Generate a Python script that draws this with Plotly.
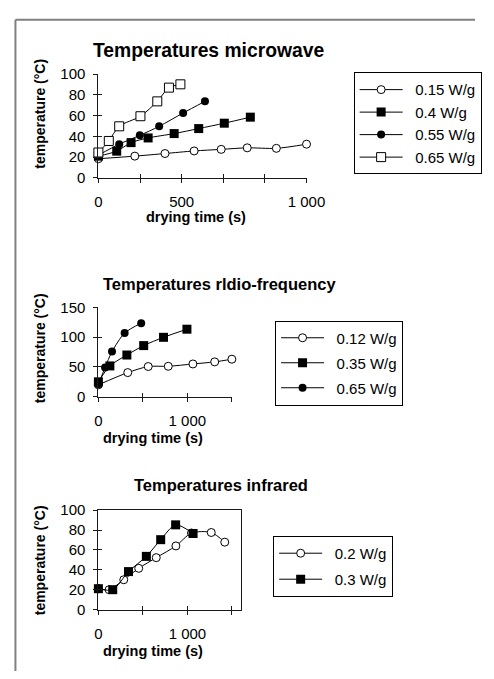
import plotly.graph_objects as go

W, H = 494, 679

# ---------------- data ----------------
mw_names = ["0.15 W/g", "0.4 W/g", "0.55 W/g", "0.65 W/g"]
mw_x_015 = [0, 175, 320, 460, 590, 715, 855, 1000]
mw_y_015 = [18.5, 21, 23.5, 26, 27.5, 29, 28.5, 32.5]
mw_x_040 = [0, 88, 157, 239, 364, 482, 605, 730]
mw_y_040 = [21, 25.8, 34, 38.5, 42.7, 47.5, 52.7, 58.5]
mw_x_055 = [0, 100, 199, 292, 407, 512]
mw_y_055 = [22, 32.5, 41, 49.7, 62.5, 73.7]
mw_x_065 = [0, 50, 100, 202, 283, 339, 394]
mw_y_065 = [24.5, 35.6, 49.7, 59.4, 73.7, 86.9, 90.1]

rf_names = ["0.12 W/g", "0.35 W/g", "0.65 W/g"]
rf_x_012 = [0, 330, 560, 785, 1062, 1307, 1500]
rf_y_012 = [20, 40.5, 50.7, 51.1, 55, 58.5, 63]
rf_x_035 = [0, 129, 320, 509, 732, 995]
rf_y_035 = [25, 51.7, 70, 85.8, 99.7, 113.3]
rf_x_065 = [0, 75, 153, 295, 481]
rf_y_065 = [20.8, 49, 75.7, 106.8, 123.5]

ir_names = ["0.2 W/g", "0.3 W/g"]
ir_x_02 = [0, 120, 285, 453, 650, 871, 1046, 1268, 1420]
ir_y_02 = [21, 20, 30, 41.5, 52.2, 64, 77, 77.5, 67.8]
ir_x_03 = [0, 161, 338, 539, 700, 868, 1064]
ir_y_03 = [21, 20, 38.2, 53.5, 70.3, 85.2, 76.5]

mw_xticks = [0, 200, 400, 600, 800, 1000]
mw_xticktext = ["0", "", "500", "", "", "1 000"]
mw_yticks = [0, 20, 40, 60, 80, 100]
rf_xticks = [0, 500, 1000, 1500]
rf_xticktext = ["0", "", "1 000", ""]
rf_yticks = [0, 50, 100, 150]
ir_xticks = [0, 500, 1000, 1500]
ir_xticktext = ["0", "", "1 000", ""]
ir_yticks = [0, 20, 40, 60, 80, 100]

titles = ["Temperatures microwave", "Temperatures rldio-frequency", "Temperatures infrared"]
x_title = "drying time (s)"
y_title = "temperature (°C)"

# ---------------- helpers ----------------
FONT = "Liberation Sans, Arial, sans-serif"
INK = "#1a1a1a"
GAP = "\u2002"  # spacing between legend symbol and label

def px(x):
    return x / W

def py(y):
    return 1 - y / H

fill_circle = dict(symbol="circle", size=8, color="black", line=dict(width=0))
fill_square = dict(symbol="square", size=9, color="black", line=dict(width=0))
open_square = dict(symbol="square", size=9, color="white", line=dict(width=1, color="black"))
open_circle_w = dict(symbol="circle", size=8, color="white", line=dict(width=1, color="black"))

fig = go.Figure()

def add(x, y, name, marker, xa, ya, legend, grp):
    fig.add_trace(go.Scatter(
        x=x, y=y, name=GAP + name, mode="lines+markers",
        line=dict(color="black", width=1, shape="spline", smoothing=0.8),
        marker=marker, xaxis=xa, yaxis=ya, legend=legend, legendgroup=grp,
        cliponaxis=False))

add(mw_x_015, mw_y_015, mw_names[0], open_circle_w, "x", "y", "legend", "a1")
add(mw_x_040, mw_y_040, mw_names[1], fill_square, "x", "y", "legend", "a2")
add(mw_x_055, mw_y_055, mw_names[2], fill_circle, "x", "y", "legend", "a3")
add(mw_x_065, mw_y_065, mw_names[3], open_square, "x", "y", "legend", "a4")

add(rf_x_012, rf_y_012, rf_names[0], open_circle_w, "x2", "y2", "legend2", "b1")
add(rf_x_035, rf_y_035, rf_names[1], fill_square, "x2", "y2", "legend2", "b2")
add(rf_x_065, rf_y_065, rf_names[2], fill_circle, "x2", "y2", "legend2", "b3")

add(ir_x_02, ir_y_02, ir_names[0], open_circle_w, "x3", "y3", "legend3", "c1")
add(ir_x_03, ir_y_03, ir_names[1], fill_square, "x3", "y3", "legend3", "c2")

# empty traces for the overlay axes that carry the inner half of crossing ticks
for xa, ya in [("x4", "y4"), ("x5", "y5"), ("x6", "y6")]:
    fig.add_trace(go.Scatter(x=[], y=[], xaxis=xa, yaxis=ya, showlegend=False, hoverinfo="skip"))

tickfont = dict(family=FONT, size=15, color="black")

def main_axis(domain, rng, tickvals, ticktext, anchor, mirror=False):
    return dict(domain=domain, range=rng, tickmode="array", tickvals=tickvals, ticktext=ticktext,
                showline=True, linecolor=INK, linewidth=1, mirror=mirror,
                ticks="outside", ticklen=4, tickwidth=1, tickcolor=INK,
                showgrid=False, zeroline=False, tickfont=tickfont, anchor=anchor,
                fixedrange=True)

def over_axis(base, rng, tickvals, anchor):
    return dict(overlaying=base, range=rng, tickmode="array", tickvals=tickvals,
                showline=False, ticks="inside", ticklen=4, tickwidth=1, tickcolor=INK,
                showticklabels=False, showgrid=False, zeroline=False, anchor=anchor,
                fixedrange=True)

mw_xd = [px(99), px(317.3)]
mw_yd = [py(173.3), py(66.7)]
rf_xd = [px(99), px(239)]
rf_yd = [py(397.7), py(306)]
ir_xd = [px(99), px(249)]
ir_yd = [py(616), py(514)]

mw_xr, mw_yr = [0, 1000], [0, 100]
rf_xr, rf_yr = [0, 1500], [0, 150]
ir_xr, ir_yr = [0, 1607], [0, 100]

layout = dict(
    width=W, height=H, margin=dict(l=0, r=0, t=0, b=0),
    paper_bgcolor="white", plot_bgcolor="rgba(0,0,0,0)",
    font=dict(family=FONT, color="black"),
    xaxis=dict(main_axis(mw_xd, mw_xr, mw_xticks, mw_xticktext, "y"), ticklabelstandoff=6),
    yaxis=dict(main_axis(mw_yd, mw_yr, mw_yticks, [str(v) for v in mw_yticks], "x"), ticklabelstandoff=5),
    xaxis2=dict(main_axis(rf_xd, rf_xr, rf_xticks, rf_xticktext, "y2"), ticklabelstandoff=6),
    yaxis2=dict(main_axis(rf_yd, rf_yr, rf_yticks, [str(v) for v in rf_yticks], "x2"), ticklabelstandoff=5),
    xaxis3=dict(main_axis(ir_xd, ir_xr, ir_xticks, ir_xticktext, "y3", mirror=True), ticklabelstandoff=6),
    yaxis3=dict(main_axis(ir_yd, ir_yr, ir_yticks, [str(v) for v in ir_yticks], "x3", mirror=True), ticklabelstandoff=5),
    xaxis4=over_axis("x", mw_xr, mw_xticks, "y4"),
    yaxis4=over_axis("y", mw_yr, mw_yticks, "x4"),
    xaxis5=over_axis("x2", rf_xr, rf_xticks, "y5"),
    yaxis5=over_axis("y2", rf_yr, rf_yticks, "x5"),
    xaxis6=over_axis("x3", ir_xr, ir_xticks, "y6"),
    yaxis6=over_axis("y3", ir_yr, ir_yticks, "x6"),
    showlegend=True,
)

legend_common = dict(bgcolor="white", bordercolor="black", borderwidth=1,
                     font=dict(family=FONT, size=15, color="black"),
                     xanchor="left", yanchor="top", traceorder="grouped",
                     itemwidth=43, itemclick=False, itemdoubleclick=False)
layout["legend"] = dict(legend_common, x=px(366.7), y=py(65), tracegroupgap=0)
layout["legend2"] = dict(legend_common, x=px(284.3), y=py(319.5), tracegroupgap=2.5)
layout["legend3"] = dict(legend_common, x=px(282.3), y=py(540.5), tracegroupgap=3.5)

fig.update_layout(**layout)

def ann(text, x, y, size, bold=True, angle=0):
    fig.add_annotation(text=text, x=px(x), y=py(y), xref="paper", yref="paper",
                       xanchor="center", yanchor="middle", showarrow=False, textangle=angle,
                       font=dict(family=FONT, size=size, color="black",
                                 weight="bold" if bold else "normal"))

ann(titles[0], 214, 43, 19.3)
ann(titles[1], 226, 281.7, 16.5)
ann(titles[2], 228, 488.3, 16.5)
ann(x_title, 201, 213, 14.5)
ann(x_title, 156, 440, 14.5)
ann(x_title, 156.3, 658.3, 14.5)
ann(y_title, 37.7, 107.5, 14, angle=-90)
ann(y_title, 37.7, 348, 14, angle=-90)
ann(y_title, 37.7, 565.5, 14, angle=-90)

# page frame (top and left edges)
fig.add_shape(type="line", xref="paper", yref="paper", x0=px(12), x1=1, y0=py(11), y1=py(11),
              line=dict(color="#808080", width=2))
fig.add_shape(type="line", xref="paper", yref="paper", x0=px(12), x1=px(12), y0=py(11), y1=0,
              line=dict(color="#808080", width=2))

fig.write_html("out.html", config=dict(displayModeBar=False),
               post_script="document.documentElement.style.margin='0';document.body.style.margin='0';"
                           "document.body.style.overflow='hidden';")
